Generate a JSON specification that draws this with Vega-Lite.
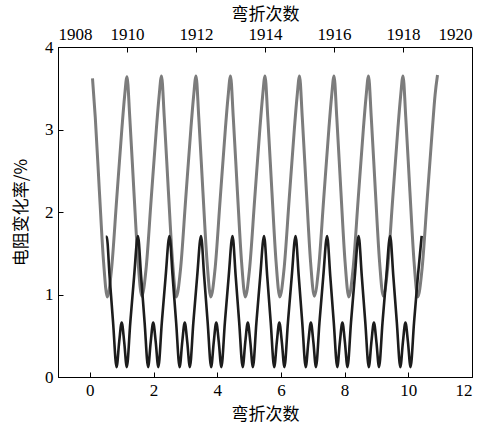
{
  "$schema": "https://vega.github.io/schema/vega-lite/v6.json",
  "width": 414,
  "height": 330,
  "autosize": {"type": "none"},
  "padding": {"left": 58, "top": 47, "right": 19, "bottom": 48},
  "background": "white",
  "view": {"stroke": "black", "strokeWidth": 1},
  "config": {
    "axis": {
      "grid": false,
      "domainColor": "black",
      "tickColor": "black",
      "labelColor": "black",
      "titleColor": "black",
      "labelFont": "Liberation Serif, Times New Roman, serif",
      "labelFontSize": 17,
      "titleFont": "Noto Sans CJK SC",
      "titleFontSize": 17,
      "titleFontWeight": "normal",
      "tickSize": -5
    }
  },
  "datasets": {
    "gray": [
      {"x": 1909.00, "y": 3.62}, {"x": 1909.08, "y": 3.15}, {"x": 1909.20, "y": 2.25}, {"x": 1909.32, "y": 1.40}, {"x": 1909.43, "y": 0.97}, {"x": 1909.55, "y": 1.30}, {"x": 1909.70, "y": 2.15}, {"x": 1909.85, "y": 3.00}, {"x": 1909.93, "y": 3.40},
      {"x": 1910.00, "y": 3.64}, {"x": 1910.08, "y": 3.15}, {"x": 1910.20, "y": 2.25}, {"x": 1910.32, "y": 1.40}, {"x": 1910.43, "y": 0.98}, {"x": 1910.55, "y": 1.30}, {"x": 1910.70, "y": 2.15}, {"x": 1910.85, "y": 3.00}, {"x": 1910.93, "y": 3.40},
      {"x": 1911.00, "y": 3.65}, {"x": 1911.08, "y": 3.15}, {"x": 1911.20, "y": 2.25}, {"x": 1911.32, "y": 1.40}, {"x": 1911.43, "y": 0.97}, {"x": 1911.55, "y": 1.30}, {"x": 1911.70, "y": 2.15}, {"x": 1911.85, "y": 3.00}, {"x": 1911.93, "y": 3.40},
      {"x": 1912.00, "y": 3.65}, {"x": 1912.08, "y": 3.15}, {"x": 1912.20, "y": 2.25}, {"x": 1912.32, "y": 1.40}, {"x": 1912.43, "y": 0.97}, {"x": 1912.55, "y": 1.30}, {"x": 1912.70, "y": 2.15}, {"x": 1912.85, "y": 3.00}, {"x": 1912.93, "y": 3.40},
      {"x": 1913.00, "y": 3.65}, {"x": 1913.08, "y": 3.15}, {"x": 1913.20, "y": 2.25}, {"x": 1913.32, "y": 1.40}, {"x": 1913.43, "y": 0.97}, {"x": 1913.55, "y": 1.30}, {"x": 1913.70, "y": 2.15}, {"x": 1913.85, "y": 3.00}, {"x": 1913.93, "y": 3.40},
      {"x": 1914.00, "y": 3.65}, {"x": 1914.08, "y": 3.15}, {"x": 1914.20, "y": 2.25}, {"x": 1914.32, "y": 1.40}, {"x": 1914.43, "y": 0.97}, {"x": 1914.55, "y": 1.30}, {"x": 1914.70, "y": 2.15}, {"x": 1914.85, "y": 3.00}, {"x": 1914.93, "y": 3.40},
      {"x": 1915.00, "y": 3.65}, {"x": 1915.08, "y": 3.15}, {"x": 1915.20, "y": 2.25}, {"x": 1915.32, "y": 1.40}, {"x": 1915.43, "y": 0.98}, {"x": 1915.55, "y": 1.30}, {"x": 1915.70, "y": 2.15}, {"x": 1915.85, "y": 3.00}, {"x": 1915.93, "y": 3.40},
      {"x": 1916.00, "y": 3.65}, {"x": 1916.08, "y": 3.15}, {"x": 1916.20, "y": 2.25}, {"x": 1916.32, "y": 1.40}, {"x": 1916.43, "y": 0.97}, {"x": 1916.55, "y": 1.30}, {"x": 1916.70, "y": 2.15}, {"x": 1916.85, "y": 3.00}, {"x": 1916.93, "y": 3.40},
      {"x": 1917.00, "y": 3.65}, {"x": 1917.08, "y": 3.15}, {"x": 1917.20, "y": 2.25}, {"x": 1917.32, "y": 1.40}, {"x": 1917.43, "y": 0.98}, {"x": 1917.55, "y": 1.30}, {"x": 1917.70, "y": 2.15}, {"x": 1917.85, "y": 3.00}, {"x": 1917.93, "y": 3.40},
      {"x": 1918.00, "y": 3.65}, {"x": 1918.08, "y": 3.15}, {"x": 1918.20, "y": 2.25}, {"x": 1918.32, "y": 1.40}, {"x": 1918.43, "y": 0.97}, {"x": 1918.55, "y": 1.30}, {"x": 1918.70, "y": 2.15}, {"x": 1918.85, "y": 3.00}, {"x": 1918.93, "y": 3.42},
      {"x": 1919.00, "y": 3.66}
    ],
    "black": [
      {"x": 0.50, "y": 1.70}, {"x": 0.53, "y": 1.70},
      {"x": 0.62, "y": 1.22}, {"x": 0.73, "y": 0.66}, {"x": 0.84, "y": 0.12}, {"x": 0.92, "y": 0.42}, {"x": 1.00, "y": 0.66}, {"x": 1.08, "y": 0.42}, {"x": 1.16, "y": 0.12}, {"x": 1.27, "y": 0.66}, {"x": 1.39, "y": 1.22}, {"x": 1.51, "y": 1.71},
      {"x": 1.61, "y": 1.22}, {"x": 1.72, "y": 0.66}, {"x": 1.83, "y": 0.12}, {"x": 1.91, "y": 0.42}, {"x": 1.99, "y": 0.66}, {"x": 2.07, "y": 0.42}, {"x": 2.15, "y": 0.12}, {"x": 2.26, "y": 0.66}, {"x": 2.38, "y": 1.22}, {"x": 2.50, "y": 1.71},
      {"x": 2.60, "y": 1.22}, {"x": 2.71, "y": 0.66}, {"x": 2.82, "y": 0.12}, {"x": 2.90, "y": 0.42}, {"x": 2.98, "y": 0.66}, {"x": 3.06, "y": 0.42}, {"x": 3.14, "y": 0.12}, {"x": 3.25, "y": 0.66}, {"x": 3.37, "y": 1.22}, {"x": 3.49, "y": 1.71},
      {"x": 3.59, "y": 1.22}, {"x": 3.70, "y": 0.66}, {"x": 3.81, "y": 0.12}, {"x": 3.89, "y": 0.42}, {"x": 3.97, "y": 0.66}, {"x": 4.05, "y": 0.42}, {"x": 4.13, "y": 0.12}, {"x": 4.24, "y": 0.66}, {"x": 4.36, "y": 1.22}, {"x": 4.48, "y": 1.71},
      {"x": 4.58, "y": 1.22}, {"x": 4.69, "y": 0.66}, {"x": 4.80, "y": 0.12}, {"x": 4.88, "y": 0.42}, {"x": 4.96, "y": 0.66}, {"x": 5.04, "y": 0.42}, {"x": 5.12, "y": 0.12}, {"x": 5.23, "y": 0.66}, {"x": 5.35, "y": 1.22}, {"x": 5.47, "y": 1.71},
      {"x": 5.57, "y": 1.22}, {"x": 5.68, "y": 0.66}, {"x": 5.79, "y": 0.12}, {"x": 5.87, "y": 0.42}, {"x": 5.95, "y": 0.66}, {"x": 6.03, "y": 0.42}, {"x": 6.11, "y": 0.12}, {"x": 6.22, "y": 0.66}, {"x": 6.34, "y": 1.22}, {"x": 6.46, "y": 1.71},
      {"x": 6.56, "y": 1.22}, {"x": 6.67, "y": 0.66}, {"x": 6.78, "y": 0.12}, {"x": 6.86, "y": 0.42}, {"x": 6.94, "y": 0.66}, {"x": 7.02, "y": 0.42}, {"x": 7.10, "y": 0.12}, {"x": 7.21, "y": 0.66}, {"x": 7.33, "y": 1.22}, {"x": 7.45, "y": 1.71},
      {"x": 7.55, "y": 1.22}, {"x": 7.66, "y": 0.66}, {"x": 7.77, "y": 0.12}, {"x": 7.85, "y": 0.42}, {"x": 7.93, "y": 0.66}, {"x": 8.01, "y": 0.42}, {"x": 8.09, "y": 0.12}, {"x": 8.20, "y": 0.66}, {"x": 8.32, "y": 1.22}, {"x": 8.44, "y": 1.71},
      {"x": 8.54, "y": 1.22}, {"x": 8.65, "y": 0.66}, {"x": 8.76, "y": 0.12}, {"x": 8.84, "y": 0.42}, {"x": 8.92, "y": 0.66}, {"x": 9.00, "y": 0.42}, {"x": 9.08, "y": 0.12}, {"x": 9.19, "y": 0.66}, {"x": 9.31, "y": 1.22}, {"x": 9.43, "y": 1.71},
      {"x": 9.53, "y": 1.22}, {"x": 9.64, "y": 0.66}, {"x": 9.75, "y": 0.12}, {"x": 9.83, "y": 0.42}, {"x": 9.91, "y": 0.66}, {"x": 9.99, "y": 0.42}, {"x": 10.07, "y": 0.12}, {"x": 10.18, "y": 0.66}, {"x": 10.30, "y": 1.22}, {"x": 10.42, "y": 1.71}
    ]
  },
  "layer": [
    {
      "data": {"name": "gray"},
      "mark": {"type": "line", "interpolate": "monotone", "color": "#7c7c7c", "strokeWidth": 3},
      "encoding": {
        "x": {
          "field": "x", "type": "quantitative",
          "scale": {"domain": [1908, 1920], "nice": false, "zero": false},
          "axis": {"orient": "top", "title": "弯折次数", "values": [1908, 1910, 1912, 1914, 1916, 1918, 1920], "format": "d", "labelFont": "Liberation Serif", "labelPadding": 9, "titlePadding": 2}
        },
        "y": {
          "field": "y", "type": "quantitative",
          "scale": {"domain": [0, 4], "nice": false},
          "axis": {"title": "电阻变化率/%", "values": [0, 1, 2, 3, 4], "format": "d", "labelFont": "Liberation Serif", "titlePadding": 14, "labelPadding": 10}
        }
      }
    },
    {
      "data": {"name": "black"},
      "mark": {"type": "line", "interpolate": "monotone", "color": "#1c1c1c", "strokeWidth": 2.6},
      "encoding": {
        "x": {
          "field": "x", "type": "quantitative",
          "scale": {"domain": [-1, 12], "nice": false, "zero": false},
          "axis": {"orient": "bottom", "title": "弯折次数", "values": [0, 2, 4, 6, 8, 10, 12], "format": "d", "labelFont": "Liberation Serif", "labelPadding": 10, "titlePadding": 8}
        },
        "y": {"field": "y", "type": "quantitative"}
      }
    }
  ],
  "resolve": {"scale": {"x": "independent"}, "axis": {"x": "independent"}}
}
